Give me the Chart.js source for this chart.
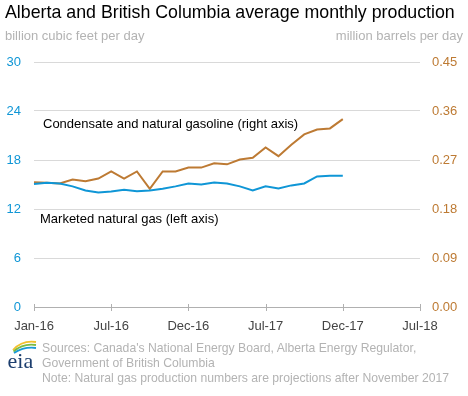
<!DOCTYPE html>
<html>
<head>
<meta charset="utf-8">
<script src="https://cdn.jsdelivr.net/npm/chart.js@4/dist/chart.umd.min.js"></script>
<style>
  html, body { margin: 0; padding: 0; background: #fff; }
  #wrap { position: relative; width: 468px; height: 396px; overflow: hidden; font-family: "Liberation Sans", Arial, sans-serif; }
  #chart { position: absolute; left: 0; top: 0; }
  .txt { position: absolute; white-space: nowrap; line-height: 16px; font-size: 13px; }
  #title { left: 5px; top: 2px; font-size: 17.8px; line-height: 20px; color: #000; }
  .unit { color: #b3b3b3; top: 28px; }
  .note { color: #b3b3b3; left: 42px; font-size: 12.2px; }
  .lbl { color: #000; }
  #logo { position: absolute; left: 6px; top: 338px; }
</style>
</head>
<body>
<div id="wrap">
  <canvas id="chart" width="468" height="396"></canvas>
  <div id="title" class="txt">Alberta and British Columbia average monthly production</div>
  <div class="txt unit" style="left:5px">billion cubic feet per day</div>
  <div class="txt unit" style="right:5px">million barrels per day</div>
  <div class="txt lbl" style="left:43px; top:116px">Condensate and natural gasoline (right axis)</div>
  <div class="txt lbl" style="left:40px; top:211px">Marketed natural gas (left axis)</div>
  <div class="txt note" style="top:340px">Sources: Canada's National Energy Board, Alberta Energy Regulator,</div>
  <div class="txt note" style="top:355px">Government of British Columbia</div>
  <div class="txt note" style="top:370px">Note: Natural gas production numbers are projections after November 2017</div>
  <svg id="logo" width="34" height="34" viewBox="0 0 34 34">
    <path d="M7 12 Q16 2 30 4" stroke="#f2c12e" stroke-width="1.8" fill="none"/>
    <path d="M7.5 13.5 Q17 5 30 7" stroke="#7dbb42" stroke-width="1.8" fill="none"/>
    <path d="M8 15 Q18 8.5 30 10" stroke="#1a9ad6" stroke-width="1.8" fill="none"/>
    <text x="1.5" y="30" font-family="Liberation Serif, DejaVu Serif, serif" font-size="22" fill="#1c3e6e">eia</text>
  </svg>
</div>
<script>
// month slots on the x axis (Jan-16 .. Jul-18)
const months = ['Jan-16','Feb-16','Mar-16','Apr-16','May-16','Jun-16','Jul-16','Aug-16','Sep-16','Oct-16','Nov-16','Dec-16',
  'Jan-17','Feb-17','Mar-17','Apr-17','May-17','Jun-17','Jul-17','Aug-17','Sep-17','Oct-17','Nov-17','Dec-17',
  'Jan-18','Feb-18','Mar-18','Apr-18','May-18','Jun-18','Jul-18'];
// labels as printed on the axis, one every 6 slots
const xTickLabels = ['Jan-16','Jul-16','Dec-16','Jul-17','Dec-17','Jul-18'];

// billion cubic feet per day (left axis)
const gasValues = [15.07, 15.22, 15.13, 14.77, 14.26, 14.03, 14.14, 14.36, 14.18, 14.26, 14.49, 14.77,
  15.13, 15.01, 15.24, 15.12, 14.77, 14.28, 14.79, 14.52, 14.89, 15.13, 15.99, 16.08, 16.08];
// million barrels per day (right axis)
const condensateValues = [0.229, 0.228, 0.227, 0.234, 0.231, 0.236, 0.249, 0.236, 0.249, 0.217, 0.249, 0.249,
  0.256, 0.256, 0.264, 0.262, 0.271, 0.274, 0.293, 0.277, 0.298, 0.317, 0.326, 0.328, 0.345];

const leftTicks = [0, 6, 12, 18, 24, 30];
const rightTicks = [0, 0.09, 0.18, 0.27, 0.36, 0.45];

const BLUE = '#0f96d6';
const BROWN = '#bd7a33';

const xTickMarks = {
  id: 'xTickMarks',
  afterDraw(chart) {
    const ctx = chart.ctx, x = chart.scales.x, b = chart.chartArea.bottom;
    ctx.save();
    ctx.strokeStyle = '#b0b0b0';
    ctx.lineWidth = 1;
    xTickLabels.forEach(function(l, i) {
      const px = Math.round(x.getPixelForValue(i * 6)) + 0.5;
      ctx.beginPath();
      ctx.moveTo(px, b - 3);
      ctx.lineTo(px, b + 4);
      ctx.stroke();
    });
    ctx.restore();
  }
};

new Chart(document.getElementById('chart').getContext('2d'), {
  type: 'line',
  data: {
    labels: months,
    datasets: [
      { label: 'Marketed natural gas', data: gasValues, yAxisID: 'y', borderColor: BLUE, borderWidth: 2, pointRadius: 0, tension: 0 },
      { label: 'Condensate and natural gasoline', data: condensateValues, yAxisID: 'y1', borderColor: BROWN, borderWidth: 2, pointRadius: 0, tension: 0 }
    ]
  },
  options: {
    responsive: false,
    animation: false,
    layout: { padding: { top: 62, bottom: 59, left: 0, right: 0 } },
    plugins: { legend: { display: false }, tooltip: { enabled: false } },
    scales: {
      x: {
        afterFit: function(s) { s.height = 30; },
        border: { display: true, color: '#b0b0b0' },
        grid: { display: false },
        ticks: {
          autoSkip: false, maxRotation: 0, padding: 4, color: '#444',
          font: { family: 'Liberation Sans', size: 13 },
          callback: function(v, i) { return i % 6 === 0 ? xTickLabels[i / 6] : null; }
        }
      },
      y: {
        position: 'left', min: 0, max: 30,
        afterFit: function(s) { s.width = 34; },
        afterBuildTicks: function(s) { s.ticks = leftTicks.map(function(v) { return { value: v }; }); },
        border: { display: false },
        grid: { drawTicks: false, color: function(c) { return c.tick.value === 0 ? 'rgba(0,0,0,0)' : '#d9d9d9'; } },
        ticks: { padding: 13, color: BLUE, font: { family: 'Liberation Sans', size: 13 } }
      },
      y1: {
        position: 'right', min: 0, max: 0.45,
        afterFit: function(s) { s.width = 48; },
        afterBuildTicks: function(s) { s.ticks = rightTicks.map(function(v) { return { value: v }; }); },
        border: { display: false },
        grid: { display: false, drawTicks: false },
        ticks: { padding: 12, color: BROWN, font: { family: 'Liberation Sans', size: 13 },
          callback: function(v) { return v.toFixed(2); } }
      }
    }
  },
  plugins: [xTickMarks]
});
</script>
</body>
</html>
